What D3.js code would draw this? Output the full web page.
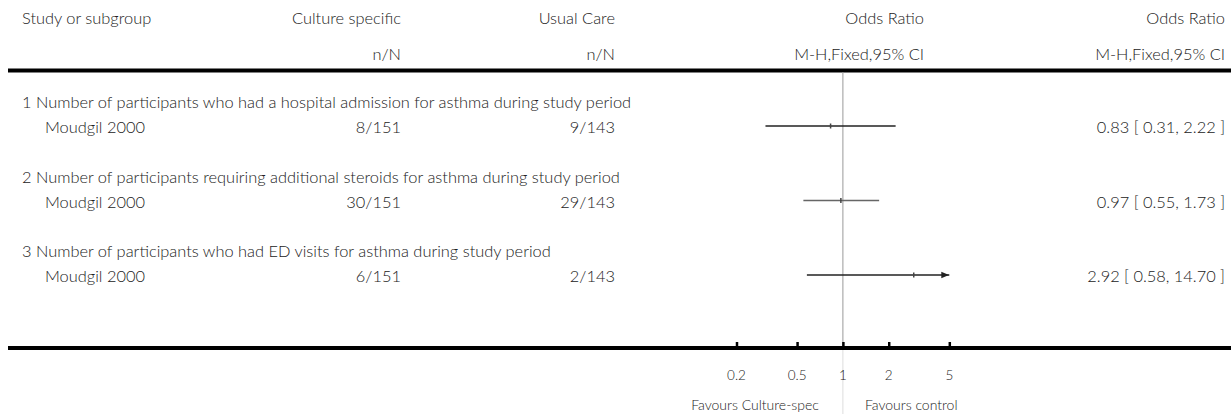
<!DOCTYPE html>
<html>
<head>
<meta charset="utf-8">
<style>
body { margin: 0; background: #fff; }
svg text { font-family: Lato, "Noto Sans", sans-serif; font-size: 16.4px; font-weight: 300; fill: #222; }
.thick { stroke: #000; stroke-width: 4; }
</style>
<script src="https://cdn.jsdelivr.net/npm/d3@7"></script>
</head>
<body>
<svg width="1231" height="414"></svg>
<script>

var subgroups = [
  "1 Number of participants who had a hospital admission for asthma during study period",
  "2 Number of participants requiring additional steroids for asthma during study period",
  "3 Number of participants who had ED visits for asthma during study period"
];
var studies = ["Moudgil 2000", "Moudgil 2000", "Moudgil 2000"];
var treatment = ["8/151", "30/151", "6/151"];
var control = ["9/143", "29/143", "2/143"];
var oddsRatio = [0.83, 0.97, 2.92];
var lower = [0.31, 0.55, 0.58];
var upper = [2.22, 1.73, 14.70];
var ciColors = ["#222", "#666", "#222"];
var ticks = [0.2, 0.5, 1, 2, 5];

var svg = d3.select("svg");

var x = d3.scaleLog().domain([0.2, 5]).range([736.5, 949.3]);
var y = d3.scalePoint().domain(d3.range(subgroups.length)).range([126, 275]);

var fmt = d3.format(".2f");

// header
var hdr = svg.append("g");
hdr.append("text").attr("x", 22).attr("y", 24).text("Study or subgroup");
[[401, "Culture specific", "n/N"], [615, "Usual Care", "n/N"],
 [924, "Odds Ratio", "M-H,Fixed,95% CI"], [1225, "Odds Ratio", "M-H,Fixed,95% CI"]]
  .forEach(function(h) {
    hdr.append("text").attr("x", h[0]).attr("y", 24).attr("text-anchor", "end").text(h[1]);
    hdr.append("text").attr("x", h[0]).attr("y", 60).attr("text-anchor", "end").text(h[2]);
  });

svg.append("line").attr("class", "thick")
  .attr("x1", 8).attr("x2", 1231).attr("y1", 70.5).attr("y2", 70.5);

// line of no effect
svg.append("line")
  .attr("x1", x(1)).attr("x2", x(1)).attr("y1", 72).attr("y2", 347)
  .attr("stroke", "#999").attr("stroke-width", 1);
svg.append("line")
  .attr("x1", x(1)).attr("x2", x(1)).attr("y1", 350).attr("y2", 414)
  .attr("stroke", "#ddd").attr("stroke-width", 1);

svg.append("defs").append("marker")
  .attr("id", "arrow").attr("viewBox", "0 0 10 10")
  .attr("refX", 10).attr("refY", 5)
  .attr("markerWidth", 8).attr("markerHeight", 8)
  .attr("markerUnits", "userSpaceOnUse")
  .attr("orient", "auto")
  .append("path").attr("d", "M0,1L10,5L0,9Z").attr("fill", "#222");

var rows = svg.selectAll(".row")
  .data(d3.range(subgroups.length))
  .enter().append("g").attr("class", "row");

rows.append("text").attr("x", 22).attr("y", function(i) { return y(i) - 18; })
  .text(function(i) { return subgroups[i]; });
rows.append("text").attr("x", 45).attr("y", function(i) { return y(i) + 7; })
  .text(function(i) { return studies[i]; });
rows.append("text").attr("x", 401).attr("y", function(i) { return y(i) + 7; })
  .attr("text-anchor", "end").text(function(i) { return treatment[i]; });
rows.append("text").attr("x", 615).attr("y", function(i) { return y(i) + 7; })
  .attr("text-anchor", "end").text(function(i) { return control[i]; });
rows.append("text").attr("x", 1225).attr("y", function(i) { return y(i) + 7; })
  .attr("text-anchor", "end")
  .text(function(i) { return fmt(oddsRatio[i]) + " [ " + fmt(lower[i]) + ", " + fmt(upper[i]) + " ]"; });

var dom = x.domain();
rows.append("line")
  .attr("x1", function(i) { return x(Math.max(lower[i], dom[0])); })
  .attr("x2", function(i) { return x(Math.min(upper[i], dom[1])); })
  .attr("y1", function(i) { return y(i); })
  .attr("y2", function(i) { return y(i); })
  .attr("stroke", function(i) { return ciColors[i]; })
  .attr("stroke-width", 1.5)
  .attr("marker-end", function(i) { return upper[i] > dom[1] ? "url(#arrow)" : null; });
rows.append("line")
  .attr("x1", function(i) { return x(oddsRatio[i]); })
  .attr("x2", function(i) { return x(oddsRatio[i]); })
  .attr("y1", function(i) { return y(i) - 2.5; })
  .attr("y2", function(i) { return y(i) + 2.5; })
  .attr("stroke", "#444").attr("stroke-width", 1.5);

// bottom axis
svg.append("line").attr("class", "thick")
  .attr("x1", 8).attr("x2", 1231).attr("y1", 348).attr("y2", 348);

var axis = svg.append("g").attr("transform", "translate(0,350)")
  .call(d3.axisTop(x).tickValues(ticks).tickSize(8).tickFormat(d3.format("")));
axis.select(".domain").remove();
axis.selectAll(".tick line").attr("stroke", "#000").attr("stroke-width", 2.5);
axis.selectAll(".tick text").remove();

svg.selectAll(".tlab").data(ticks).enter().append("text")
  .attr("class", "tlab")
  .attr("x", function(d) { return x(d); })
  .attr("y", 380)
  .attr("text-anchor", "middle")
  .style("font-size", "13.5px")
  .text(function(d) { return d; });

svg.append("text").attr("x", x(1) - 24).attr("y", 410).attr("text-anchor", "end")
  .style("font-size", "14px").text("Favours Culture-spec");
svg.append("text").attr("x", x(1) + 22).attr("y", 410)
  .style("font-size", "14px").text("Favours control");

</script>
</body>
</html>
